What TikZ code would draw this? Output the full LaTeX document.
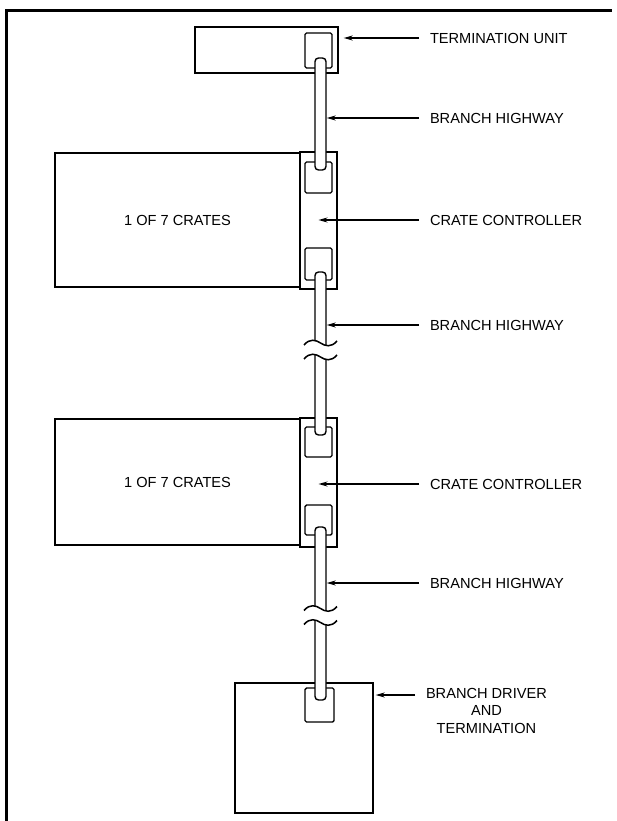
\documentclass[tikz,border=0pt]{standalone}
\usepackage{fontspec}
\setmainfont{Liberation Sans}
\usetikzlibrary{arrows.meta,positioning,calc}
\newcommand{\brkfill}[1]{(304,#1+2) .. controls (310,#1-5) and (316,#1-3) .. (320.5,#1) .. controls (325,#1+3) and (331,#1+5) .. (337,#1-2)}
\newcommand{\hwbreak}[1]{%
  \fill[white] \brkfill{#1-7} -- (337,#1+5) .. controls (331,#1+12) and (325,#1+10) .. (320.5,#1+7) .. controls (316,#1+4) and (310,#1+2) .. (304,#1+9) -- cycle;
  \draw[wave] \brkfill{#1-7};
  \draw[wave] \brkfill{#1+7};}
\tikzset{
  box/.style={draw,line width=1.4pt,inner sep=0pt},
  plug/.style={box,fill=white,rounded corners=1.5pt},
  hwy/.style={draw,line width=1.4pt,fill=white,rounded corners=3.5pt,minimum width=11pt,inner sep=0pt},
  wave/.style={line width=1.5pt},
  lbl/.style={font=\fontsize{14.6}{17.5}\selectfont,anchor=west,inner sep=0pt,outer xsep=11pt,align=center},
  ar/.style={-{Stealth[length=9pt,width=5pt]},line width=1.4pt},
}
\begin{document}
\begin{tikzpicture}[x=1pt,y=-1pt]
\useasboundingbox (0,0) rectangle (616,821);
% frame
\draw[line width=3pt] (6,821) -- (6,11) -- (612,11);

% termination unit
\node[box,minimum width=143pt,minimum height=46pt] (tu) at (266.5,50) {};
\node[plug,minimum width=27pt,minimum height=35pt] (tuP) at (318.5,50.5) {};

% crate A
\node[box,minimum width=245pt,minimum height=134pt,font=\fontsize{14.6}{17.5}\selectfont] (crA) at (177.5,220) {1 OF 7 CRATES};
\node[box,minimum width=37pt,minimum height=137pt] (ccA) at (318.5,220.5) {};
\node[plug,minimum width=27pt,minimum height=31pt] (ccAt) at (318.5,177.5) {};
\node[plug,minimum width=27pt,minimum height=32pt] (ccAb) at (318.5,264) {};

% crate B
\node[box,minimum width=245pt,minimum height=126pt,font=\fontsize{14.6}{17.5}\selectfont] (crB) at (177.5,482) {1 OF 7 CRATES};
\node[box,minimum width=37pt,minimum height=129pt] (ccB) at (318.5,482.5) {};
\node[plug,minimum width=27pt,minimum height=30pt] (ccBt) at (318.5,442) {};
\node[plug,minimum width=27pt,minimum height=30pt] (ccBb) at (318.5,520) {};

% branch driver
\node[box,minimum width=138pt,minimum height=130pt] (drv) at (304,748) {};
\node[plug,minimum width=29pt,minimum height=34pt] (drvP) at (319.5,705) {};

% highway cables
\node[hwy,minimum height=112pt] (hwA) at (320.5,114) {};
\node[hwy,minimum height=78pt] (hwB) at (320.5,311) {};
\node[hwy,minimum height=85pt] (hwC) at (320.5,392.5) {};
\node[hwy,minimum height=88pt] (hwD) at (320.5,571) {};
\node[hwy,minimum height=85pt] (hwE) at (320.5,657.5) {};
\hwbreak{350}
\hwbreak{615.5}

% labels
\node[lbl] (tuL) at (419,38) {TERMINATION UNIT};
\node[lbl] (bhA) at (419,118) {BRANCH HIGHWAY};
\node[lbl] (ccAL) at (419,220) {CRATE CONTROLLER};
\node[lbl] (bhB) at (419,325) {BRANCH HIGHWAY};
\node[lbl] (ccBL) at (419,484) {CRATE CONTROLLER};
\node[lbl] (bhC) at (419,583) {BRANCH HIGHWAY};
\node[lbl,anchor=north west] (drvL) at (415,688) {BRANCH DRIVER\\AND\\TERMINATION};

\draw[ar,shorten >=5pt] (tuL.west) -- (tuL.west -| tu.east);
\draw[ar] (bhA.west) -- (bhA.west -| hwA.east);
\draw[ar] (ccAL.west) -- (ccAL.west -| ccA.center);
\draw[ar] (bhB.west) -- (bhB.west -| hwB.east);
\draw[ar] (ccBL.west) -- (ccBL.west -| ccB.center);
\draw[ar] (bhC.west) -- (bhC.west -| hwD.east);
\draw[ar,shorten >=2pt] ([yshift=-7pt]drvL.north west) -- ([yshift=-7pt]drvL.north west -| drv.east);
\end{tikzpicture}
\end{document}
